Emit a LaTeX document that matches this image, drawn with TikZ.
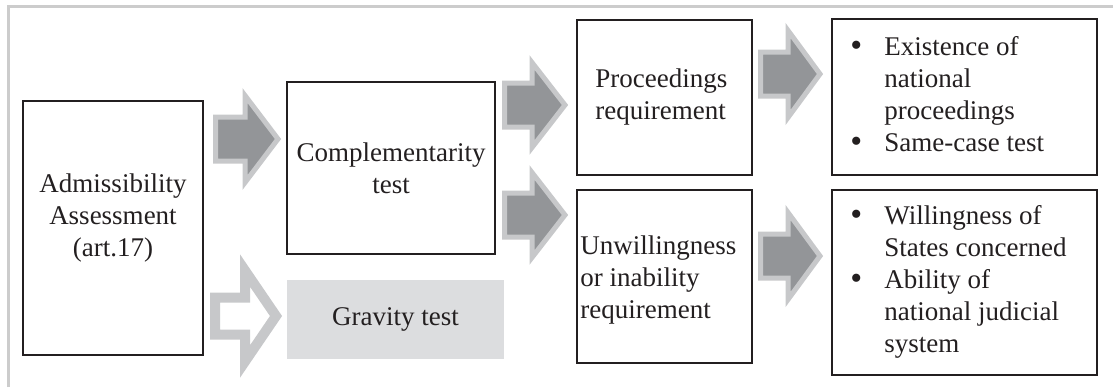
\documentclass[tikz,border=0pt]{standalone}
\usepackage{fontspec}
\setmainfont{Liberation Serif}
\usetikzlibrary{positioning}

\definecolor{ink}{RGB}{35,31,32}
\definecolor{arrowfill}{RGB}{147,149,152}
\definecolor{arrowedge}{RGB}{199,200,202}
\definecolor{gravfill}{RGB}{220,221,223}
\definecolor{framegray}{RGB}{204,204,204}

% style, tail, shaft half, shaft length, head half, head length
\newcommand{\barrow}[6]{\draw[#1] (#2) ++(0,-#3) -- ++(#4,0) -- ++(0,{#3-#5}) -- ++(#6,#5)
  -- ++(-#6,#5) -- ++(0,{#3-#5}) -- ++(-#4,0) -- cycle;}
\newcommand{\bul}{\raisebox{-0.5pt}{\fontsize{17}{16}\selectfont\textbullet}}

\begin{document}
\begin{tikzpicture}[x=0.5pt, y=-0.5pt,
  box/.style={draw=ink, line width=1pt, inner sep=0pt},
  txt/.style={text=ink, font=\fontsize{13.5}{16}\selectfont, align=center, inner sep=0pt},
  lst/.style={txt, align=left, anchor=west},
  flow/.style={draw=arrowedge, fill=arrowfill, line width=2.5pt},
  hollow/.style={draw=arrowedge, fill=white, line width=5pt}]
\useasboundingbox (0,0) rectangle (1113,387);
\draw[framegray, line width=1.5pt] (8,387) -- (8,6) -- (1113,6);

\node[box, minimum width=90pt, minimum height=127pt] (adm) at (113,228) {};
\node[txt] (admtxt) at (113,218) {Admissibility\\Assessment\\(art.17)};
\node[box, minimum width=104pt, minimum height=86pt, txt, draw=ink] (comp) at (391,168) {Complementarity\\test};
\node[fill=gravfill, minimum width=108.5pt, minimum height=39.5pt, txt] (grav) at (395.5,319.5) {Gravity test};
\node[box, minimum width=87.5pt, minimum height=77.5pt] (proc) at (664.5,97.5) {};
\node[lst] (proctxt) at (595,97) {Proceedings\\requirement};
\node[box, minimum width=87.5pt, minimum height=86.5pt] (unw) at (664.5,276.5) {};
\node[lst] (unwtxt) at (580,280) {Unwillingness\\or inability\\requirement};
\node[box, minimum width=132.5pt, minimum height=78pt] (exist) at (964.5,97) {};
\node[lst] (existtxt) at (850,97) {\begin{tabular}{@{}p{17pt}@{}l@{}}
\bul & Existence of\\ & national\\ & proceedings\\ \bul & Same-case test\end{tabular}};
\node[box, minimum width=132.5pt, minimum height=92.5pt] (will) at (964.5,282.5) {};
\node[lst] (willtxt) at (850,282) {\begin{tabular}{@{}p{17pt}@{}l@{}}
\bul & Willingness of\\ & States concerned\\ \bul & Ability of\\ & national judicial\\ & system\end{tabular}};

\coordinate (t1) at (215.5,139);
\coordinate (t2) at (215,316);
\coordinate (t3) at (504.5,105);
\coordinate (t4) at (504.5,215);
\coordinate (t5) at (760.5,74);
\coordinate (t6) at (760.5,256);
\barrow{flow}{t1}{22}{29.5}{43.5}{33}
\barrow{hollow}{t2}{18.5}{30}{45.5}{31}
\barrow{flow}{t3}{22}{27.5}{42.5}{33}
\barrow{flow}{t4}{22}{27.5}{42.5}{33}
\barrow{flow}{t5}{22}{27.5}{43.5}{32}
\barrow{flow}{t6}{22}{27.5}{43.5}{32}
\end{tikzpicture}
\end{document}
